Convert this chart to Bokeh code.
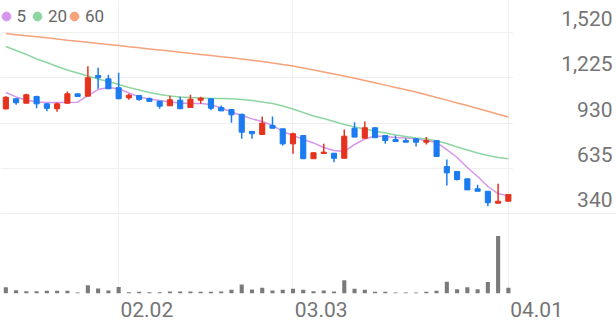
from bokeh.plotting import figure
from bokeh.models import (Range1d, FixedTicker, Grid, Label, Legend, LegendItem,
                          ColumnDataSource)
from bokeh.layouts import column, row
from bokeh.embed import file_html
from bokeh.resources import INLINE

# ---------------- data ----------------
dates = ["01.16", "01.19", "01.20", "01.21", "01.22", "01.23", "01.26", "01.27", "01.28", "01.29",
         "01.30", "02.02", "02.03", "02.04", "02.05", "02.06", "02.09", "02.10", "02.11", "02.12",
         "02.13", "02.19", "02.20", "02.23", "02.24", "02.25", "02.26", "02.27", "03.03", "03.04",
         "03.05", "03.06", "03.09", "03.10", "03.11", "03.12", "03.13", "03.16", "03.17", "03.18",
         "03.19", "03.20", "03.23", "03.24", "03.25", "03.26", "03.27", "03.30", "03.31", "04.01"]
opens = [1022, 1088, 1059, 1103, 1055, 1023, 1059, 1120, 1105, 1240,
         1218, 1160, 1094, 1109, 1090, 1072, 1042, 1079, 1031, 1079,
         1088, 1031, 1018, 987, 875, 855, 914, 892, 794, 848,
         697, 731, 733, 700, 896, 831, 899, 848, 822, 816,
         827, 805, 816, 646, 614, 566, 501, 485, 407, 420]
highs = [1105, 1090, 1120, 1107, 1058, 1064, 1135, 1120, 1300, 1290,
         1244, 1257, 1120, 1109, 1096, 1075, 1107, 1101, 1114, 1101,
         1088, 1044, 1018, 990, 875, 972, 972, 892, 866, 848,
         740, 794, 733, 888, 935, 940, 903, 848, 848, 831,
         831, 838, 816, 692, 614, 566, 527, 485, 534, 464]
lows = [1018, 1049, 1059, 1026, 1007, 1003, 1059, 1103, 1105, 1153,
        1153, 1085, 1081, 1075, 1071, 1023, 1042, 1023, 1031, 1055,
        1013, 1009, 931, 827, 827, 855, 896, 783, 729, 697,
        697, 731, 674, 700, 838, 831, 834, 794, 809, 805,
        777, 790, 712, 523, 555, 494, 485, 388, 407, 420]
closes = [1098, 1062, 1114, 1055, 1026, 1055, 1120, 1103, 1225, 1225,
          1153, 1088, 1111, 1083, 1071, 1040, 1081, 1023, 1085, 1092,
          1026, 1009, 983, 870, 860, 929, 896, 794, 860, 697,
          736, 740, 700, 844, 838, 899, 834, 816, 809, 805,
          805, 816, 712, 605, 562, 494, 485, 410, 420, 464]
volumes = [630, 330, 230, 230, 270, 270, 270, 100, 830, 500,
           300, 670, 130, 170, 130, 130, 200, 200, 200, 170,
           170, 200, 370, 900, 400, 570, 300, 370, 470, 370,
           230, 300, 200, 1330, 470, 370, 170, 170, 100, 100,
           100, 170, 270, 1200, 430, 630, 430, 1170, 5830, 570]
ma5 = [1129, 1100, 1080, 1067, 1064, 1064, 1064, 1066, 1109, 1148,
       1161, 1153, 1126, 1100, 1086, 1077, 1067, 1060, 1057, 1057,
       1051, 1028, 1002, 979, 957, 940, 914, 875, 849, 822,
       800, 770, 751, 744, 790, 826, 845, 842, 835, 832,
       827, 816, 803, 757, 705, 640, 581, 516, 470, 454]
ma20 = [1429, 1403, 1377, 1347, 1324, 1298, 1276, 1256, 1236, 1217,
        1201, 1181, 1161, 1145, 1129, 1116, 1106, 1100, 1096, 1093,
        1090, 1090, 1088, 1083, 1077, 1067, 1057, 1041, 1021, 998,
        976, 959, 940, 920, 904, 891, 878, 865, 852, 842,
        832, 826, 813, 796, 774, 754, 734, 718, 705, 697]
ma60 = [1513, 1506, 1499, 1492, 1485, 1478, 1470, 1463, 1456, 1449,
        1442, 1435, 1427, 1420, 1413, 1406, 1399, 1392, 1384, 1377,
        1370, 1362, 1355, 1347, 1339, 1331, 1321, 1311, 1302, 1289,
        1275, 1262, 1249, 1236, 1222, 1207, 1192, 1177, 1162, 1147,
        1132, 1114, 1096, 1079, 1061, 1044, 1025, 1006, 987, 969]
price_ticks = [340, 635, 930, 1225, 1520]
date_ticks = ["02.02", "03.03", "04.01"]
ma_labels = ["5", "20", "60"]

# ---------------- style ----------------
UP = "#e5321c"
DOWN = "#1b7bf0"
MA_COLORS = ["#d796ee", "#8ed6a1", "#f6a27b"]
GRID = "#efefef"
TXT = "#757575"
FONT = "Roboto"
W, PLOT_W, AX_W = 616, 513, 103
PRICE_H, VOL_H, DATE_H = 215, 106, 28

idx = list(range(len(dates)))
x0, x1 = -0.52, len(dates) - 0.5
x_rng = Range1d(x0, x1)
px_per_unit = PLOT_W / (x1 - x0)
date_idx = [dates.index(d) for d in date_ticks]
label_shift = 2.75  # date labels start just right of their grid line

src = ColumnDataSource(dict(
    x=idx, o=opens, h=highs, l=lows, c=closes,
    top=[max(a, b) for a, b in zip(opens, closes)],
    bottom=[min(a, b) for a, b in zip(opens, closes)],
    color=[UP if c >= o else DOWN for o, c in zip(opens, closes)],
))


def bare(fig):
    fig.outline_line_color = None
    fig.grid.grid_line_color = None
    return fig


common = dict(output_backend="svg", toolbar_location=None, y_axis_location=None,
              min_border_left=0, min_border_right=0, min_border_top=0)

# ---------------- price panel ----------------
upp = 295 / 45.25  # price units per pixel
y_rng = Range1d(340 - 2 * upp, 340 + 213 * upp)
p = bare(figure(width=PLOT_W, height=PRICE_H, x_range=x_rng, y_range=y_rng,
                x_axis_location=None, min_border_bottom=0, **common))
p.add_layout(Grid(dimension=1, ticker=FixedTicker(ticks=price_ticks), grid_line_color=GRID), "center")
p.add_layout(Grid(dimension=0, ticker=FixedTicker(ticks=date_idx), grid_line_color=GRID), "center")

ma_renderers = []
for vals, col in zip([ma5, ma20, ma60], MA_COLORS):
    p.line(idx, vals, line_color=col, line_width=1.5)
    ma_renderers.append(p.scatter(idx, vals, size=9, fill_color=col, line_color=col, visible=False))

p.segment("x", "h", "x", "l", source=src, line_color="color", line_width=1.5)
p.vbar(x="x", width=0.5, top="top", bottom="bottom", source=src,
       fill_color="color", line_color="color", line_width=1)

for lab, r, cx in zip(ma_labels, ma_renderers, [5.5, 37, 74]):
    p.add_layout(Legend(items=[LegendItem(label=lab, renderers=[r])],
                        location=(cx - 11, 187.3), orientation="horizontal",
                        glyph_width=22, glyph_height=24, label_standoff=0, spacing=0,
                        label_width=0, label_height=0, padding=0, margin=0,
                        background_fill_alpha=0, border_line_color=None,
                        label_text_font=FONT, label_text_font_size="17px",
                        label_text_color="#666666"))

# price tick labels (right-hand strip, same y scale), sitting just above their grid lines
py = bare(figure(width=AX_W, height=PRICE_H, x_range=Range1d(0, 1), y_range=y_rng,
                 x_axis_location=None, min_border_bottom=0, **common))
py.add_layout(Grid(dimension=1, ticker=FixedTicker(ticks=price_ticks[:1]), grid_line_color=GRID), "center")
for t in price_ticks:
    py.add_layout(Label(x=AX_W - 4, x_units="screen", y=t + 14 * upp, text=f"{t:,}",
                        text_align="right", text_baseline="alphabetic", text_font=FONT,
                        text_font_size="21px", text_color=TXT))

# ---------------- volume panel + date axis ----------------
v = bare(figure(width=W, height=VOL_H, x_range=Range1d(x0, x0 + W / px_per_unit),
                y_range=Range1d(0, 7900), x_axis_location="below",
                min_border_bottom=DATE_H, **common))
v.add_layout(Grid(dimension=0, ticker=FixedTicker(ticks=date_idx), grid_line_color=GRID), "center")
v.add_layout(Grid(dimension=1, ticker=FixedTicker(ticks=[0]), grid_line_color=GRID), "center")
v.vbar(x=idx, width=0.4, top=volumes, bottom=0, fill_color="#7a7a7a", line_color=None)

ax = v.xaxis[0]
tick_pos = [i + label_shift for i in date_idx]
ax.ticker = FixedTicker(ticks=tick_pos)
ax.major_label_overrides = {t: lab for t, lab in zip(tick_pos, date_ticks)}
ax.axis_line_color = None
ax.major_tick_line_color = None
ax.minor_tick_line_color = None
ax.major_tick_out = 0
ax.major_tick_in = 0
ax.major_label_standoff = 8
ax.major_label_text_font = FONT
ax.major_label_text_font_size = "21px"
ax.major_label_text_color = TXT

layout = column(row(p, py, spacing=0), v, spacing=0)
open("out.html", "w").write(file_html(layout, INLINE))
